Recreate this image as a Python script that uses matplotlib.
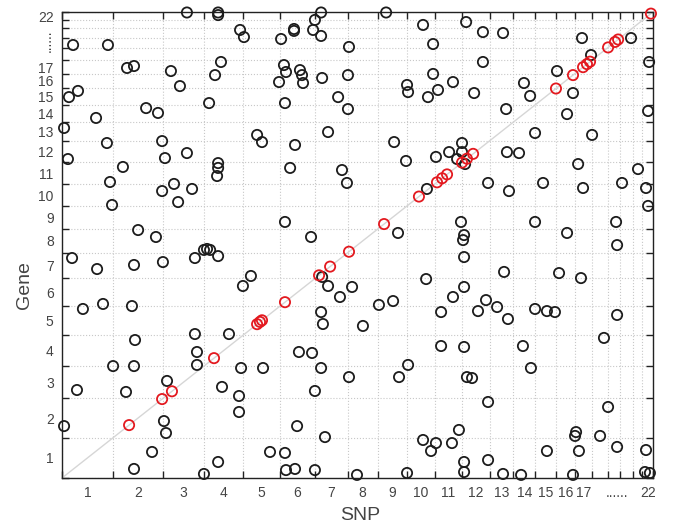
import numpy as np
import matplotlib
matplotlib.use('Agg')
import matplotlib.pyplot as plt
from matplotlib.ticker import NullFormatter

COLOR = ['#1c1c1c', '#e3191f']
TEXT_COLOR = '#444444'

# autosome lengths (hg19, Mb), chromosomes 1..22
CHR_LEN = [249.25, 243.20, 198.02, 191.15, 180.92, 171.12, 159.14, 146.36,
           141.21, 135.53, 135.01, 133.85, 115.17, 107.35, 102.53, 90.35,
           81.20, 78.08, 59.13, 63.03, 48.13, 51.30]
CHR_NAMES = [str(i) for i in range(1, 23)]
HIDDEN = ['18', '19', '20', '21']   # shown as dots

# cis pairs (SNP and gene at same genomic position, Mb)
cis_pos = [327, 488, 536, 741, 951, 965, 975, 1087, 1253, 1307, 1399, 1570,
           1740, 1828, 1853, 1877, 1950, 1974, 2004, 2408, 2491, 2540, 2559,
           2574, 2662, 2696, 2711, 2871]

# trans pairs, genome-wide position (Mb)
trans_snp = [
    609, 54, 224, 317, 351, 531, 575, 78, 34, 410, 468, 717, 166, 10, 219, 488,
    502, 609, 29, 297, 234, 546, 488, 634, 566, 244, 371, 458,
    761, 761, 1263, 1233, 1224, 1263, 868, 887, 1068, 1131, 1131, 1399, 775,
    746, 1082, 1092, 1058, 1160, 1170, 1175, 1268, 1394, 1087, 1346, 1394, 951,
    975, 1136, 1297, 761, 761, 756, 1112, 1365, 1389, 1087, 1214,
    1580, 1760, 1970, 2052, 2150, 1809, 2052, 1809, 1682, 1687, 1784, 1833,
    1906, 2009, 2165, 1619, 1677, 1823, 1887, 1950, 1950, 1926, 1965, 2169,
    2077, 2179, 1779, 1945, 1960, 1638,
    2535, 2774, 2579, 2862, 2413, 2252, 2282, 2491, 2462, 2857, 2306, 2584,
    2228, 2516, 2808, 2345, 2540, 2730, 2847, 2857, 2306, 2462, 2701, 2706,
    49, 171, 351, 492, 648, 692, 707, 722, 761, 102, 200, 341, 648, 356, 658,
    249, 351, 658, 512, 73, 312, 497, 507, 10, 439, 351, 692,
    921, 882, 1268, 1297, 1414, 1355, 1263, 1272, 814, 1155, 1219, 873, 980,
    1263, 1399, 780, 863, 1233, 863, 1146, 1282, 761, 1014, 1087, 1092, 1136,
    1233, 1438,
    1955, 1960, 2155, 1775, 1960, 1906, 2067, 2121, 2028, 2174, 1848, 1545,
    1614, 1467, 1848, 1960, 1687, 1643, 1974, 1999, 2077, 1935, 1760, 1823,
    1901, 1799, 1960, 2077, 1960, 1682, 2150,
    2423, 2530, 2306, 2364, 2403, 2706, 2642, 2247, 2286, 2662, 2506, 2501,
    2623, 2706, 2364, 2520, 2847, 2238, 2491, 2842, 2866]
trans_gene = [
    2878, 2677, 2677, 2535, 2547, 2516, 2423, 2393, 2355, 2287, 2257, 2318,
    2226, 2164, 2071, 2083, 1978, 2009, 1972, 1923, 1830, 1818, 1774, 1787,
    1706, 1688, 1533, 1490,
    2878, 2862, 2878, 2832, 2770, 2733, 2770, 2726, 2714, 2776, 2764, 2665,
    2572, 2491, 2553, 2510, 2448, 2522, 2491, 2442, 2473, 2491, 2318, 2355,
    2281, 2121, 2077, 2059, 2139, 1947, 1917, 1867, 1917, 1904, 1824, 1583,
    1490,
    2878, 2801, 2819, 2757, 2751, 2683, 2572, 2498, 2430, 2386, 2355, 2399,
    2448, 2380, 2281, 2077, 1960, 1985, 2015, 2071, 2015, 1972, 1941, 2015,
    1824, 1774, 1787, 1583, 1502, 1515,
    2720, 2720, 2615, 2572, 2516, 2442, 2362, 2380, 2250, 2269, 2133, 2121,
    2009, 1941, 1910, 1824, 1793, 1824, 1793, 1682, 1583, 1515, 1583, 1440,
    1360, 1292, 1317, 1335, 1360, 1410, 1416, 1410, 1372, 1045, 1076, 1063,
    890, 853, 779, 692, 692, 699, 600, 544, 532, 352, 278, 321, 161, 56, 25,
    1249, 1187, 1243, 1187, 1181, 1119, 1026, 952, 890, 779, 773, 680, 680,
    680, 624, 563, 507, 538, 408, 321, 253, 99, 161, 155, 49, 56, 49, 19,
    1471, 1366, 1274, 1230, 1181, 1119, 1100, 1057, 1032, 983, 1026, 1070,
    1094, 940, 816, 810, 699, 624, 624, 618, 470, 297, 235, 216, 216, 167, 99,
    111, 37, 31, 25,
    1267, 1236, 1045, 1032, 1026, 1008, 866, 816, 680, 439, 284, 260, 260, 192,
    167, 167, 173, 19, 19, 37, 31]


def chrom_ticks(lengths: list, names: list, hidden: list) -> tuple:
    ends = np.cumsum(lengths)
    starts = ends - np.asarray(lengths)
    centers = (starts + ends) / 2
    bounds = np.concatenate([[0], ends])
    pos, labels = [], []
    for c, n in zip(centers, names):
        if n not in hidden:
            pos.append(c)
            labels.append(n)
    h = [names.index(n) for n in hidden]
    pos.append((starts[min(h)] + ends[max(h)]) / 2)
    labels.append('......')
    return bounds, pos, labels


def main(out_fname: str = 'out.png') -> None:
    plt.rcParams['font.family'] = ['Liberation Sans', 'DejaVu Sans']
    bounds, pos, labels = chrom_ticks(CHR_LEN, CHR_NAMES, HIDDEN)
    total = bounds[-1]

    fig = plt.figure(figsize = (6.73, 5.28), dpi = 100)
    ax = fig.add_axes([62 / 673, 50 / 528, 591 / 673, 466 / 528])

    ax.plot([0, total], [0, total], color = '#d6d6d6', lw = 1.0, zorder = 1)
    ax.scatter(trans_snp, trans_gene, s = 54, facecolors = 'none',
        edgecolors = COLOR[0], linewidths = 1.3, zorder = 3, clip_on = False)
    ax.scatter(cis_pos, cis_pos, s = 54, facecolors = 'none',
        edgecolors = COLOR[1], linewidths = 1.3, zorder = 4, clip_on = False)

    ax.set_xlim(0, total)
    ax.set_ylim(0, total)
    for axis in (ax.xaxis, ax.yaxis):
        axis.set_ticks(bounds)
        axis.set_major_formatter(NullFormatter())
        axis.set_ticks(pos, labels, minor = True)
    ax.tick_params(which = 'major', direction = 'in', length = 5, width = 1,
        top = True, right = True, color = '#222222')
    ax.tick_params(which = 'minor', length = 0, labelsize = 10,
        labelcolor = TEXT_COLOR, pad = 6)
    ax.get_yticklabels(minor = True)[-1].set_rotation(90)
    ax.get_yticklabels(minor = True)[-1].set_va('center')
    ax.grid(True, which = 'major', linestyle = ':', color = '#c8c8c8', linewidth = 0.8)
    ax.set_axisbelow(True)
    for s in ax.spines.values():
        s.set_color('#222222')
        s.set_linewidth(1.0)

    ax.set_xlabel('SNP', fontsize = 14, color = TEXT_COLOR)
    ax.set_ylabel('Gene', fontsize = 14, color = TEXT_COLOR)
    ax.xaxis.set_label_coords(0.504, -0.062)
    ax.yaxis.set_label_coords(-0.049, 0.414)

    fig.savefig(out_fname, dpi = 100, facecolor = 'white')


if __name__ == "__main__":
    main()
